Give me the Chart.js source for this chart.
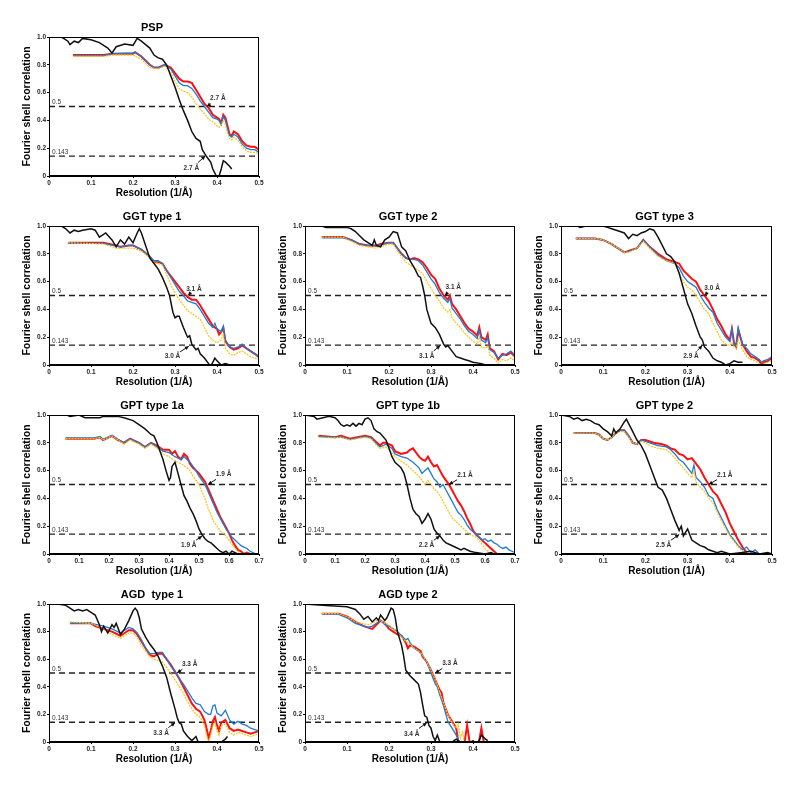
<!DOCTYPE html>
<html>
<head>
<meta charset="utf-8">
<script src="https://cdn.jsdelivr.net/npm/chart.js@4.4.1/dist/chart.umd.min.js"></script>
<style>
  body { margin: 0; background: #fff; }
  #wrap { position: relative; width: 800px; height: 791px; overflow: hidden; }
  #wrap canvas { position: absolute; }
</style>
</head>
<body>
<div id="wrap"></div>
<script>
// FSC curves, [resolution (1/Å), correlation]
const pspBlack = [[0,1],[0.03,1],[0.045,0.97],[0.05,0.945],[0.06,0.97],[0.07,0.96],[0.08,0.99],[0.1,0.98],[0.12,0.96],[0.14,0.92],[0.15,0.885],[0.16,0.93],[0.18,0.95],[0.2,0.94],[0.21,0.99],[0.22,0.97],[0.24,0.92],[0.25,0.87],[0.26,0.85],[0.27,0.84],[0.28,0.8],[0.29,0.72],[0.3,0.64],[0.31,0.55],[0.32,0.47],[0.33,0.4],[0.34,0.32],[0.35,0.27],[0.36,0.25],[0.365,0.19],[0.375,0.14],[0.385,0.1],[0.39,0.05],[0.4,-0.01],[0.405,0],[0.41,0.05],[0.415,0.11],[0.42,0.1],[0.43,0.07],[0.435,0.05]];
const pspRed = [[0.057,0.87],[0.13,0.87],[0.15,0.88],[0.2,0.88],[0.205,0.89],[0.22,0.86],[0.24,0.8],[0.25,0.78],[0.26,0.78],[0.275,0.8],[0.29,0.78],[0.3,0.74],[0.31,0.7],[0.32,0.68],[0.33,0.68],[0.34,0.67],[0.35,0.62],[0.36,0.57],[0.37,0.52],[0.38,0.49],[0.39,0.44],[0.4,0.42],[0.405,0.41],[0.41,0.38],[0.415,0.44],[0.42,0.42],[0.425,0.36],[0.43,0.3],[0.435,0.29],[0.44,0.32],[0.45,0.3],[0.46,0.25],[0.47,0.22],[0.48,0.21],[0.49,0.21],[0.5,0.19]];
const pspBlue = [[0.057,0.865],[0.13,0.865],[0.15,0.88],[0.2,0.885],[0.205,0.89],[0.22,0.86],[0.24,0.8],[0.25,0.78],[0.26,0.78],[0.275,0.8],[0.29,0.77],[0.3,0.72],[0.31,0.67],[0.32,0.65],[0.33,0.65],[0.34,0.63],[0.35,0.59],[0.36,0.54],[0.37,0.5],[0.38,0.46],[0.39,0.42],[0.4,0.41],[0.405,0.4],[0.41,0.37],[0.415,0.43],[0.42,0.4],[0.425,0.34],[0.43,0.29],[0.435,0.28],[0.44,0.3],[0.45,0.28],[0.46,0.23],[0.47,0.2],[0.48,0.19],[0.49,0.19],[0.5,0.17]];
const pspYellow = [[0.057,0.86],[0.13,0.86],[0.15,0.87],[0.2,0.87],[0.22,0.84],[0.24,0.78],[0.26,0.77],[0.275,0.79],[0.29,0.75],[0.3,0.68],[0.31,0.63],[0.32,0.61],[0.33,0.6],[0.34,0.57],[0.35,0.52],[0.36,0.48],[0.37,0.45],[0.38,0.41],[0.39,0.39],[0.4,0.36],[0.405,0.35],[0.41,0.37],[0.415,0.4],[0.42,0.37],[0.425,0.31],[0.43,0.27],[0.435,0.26],[0.44,0.28],[0.45,0.26],[0.46,0.21],[0.47,0.18],[0.48,0.17],[0.49,0.17],[0.5,0.16]];
const pspNotes = [['2.7 Å',0.402,0.56,0.376,0.5],['2.7 Å',0.339,0.055,0.372,0.143]];

const ggt1Black = [[0,1],[0.03,1],[0.04,0.98],[0.05,0.95],[0.06,0.97],[0.07,0.96],[0.08,0.97],[0.1,0.98],[0.11,0.97],[0.12,0.92],[0.135,0.95],[0.15,0.9],[0.16,0.85],[0.17,0.9],[0.18,0.87],[0.19,0.92],[0.2,0.88],[0.21,0.95],[0.215,0.98],[0.22,0.95],[0.23,0.86],[0.24,0.77],[0.25,0.73],[0.26,0.69],[0.27,0.63],[0.28,0.56],[0.287,0.5],[0.295,0.38],[0.3,0.34],[0.305,0.35],[0.31,0.35],[0.32,0.27],[0.33,0.2],[0.335,0.21],[0.34,0.15],[0.35,0.11],[0.355,0.12],[0.36,0.08],[0.37,0.05],[0.38,0.01],[0.385,-0.01],[0.395,0.05],[0.4,0.03],[0.41,0],[0.42,0.01],[0.43,0]];
const ggt1Red = [[0.045,0.88],[0.13,0.88],[0.16,0.86],[0.17,0.85],[0.19,0.86],[0.2,0.86],[0.22,0.83],[0.24,0.78],[0.25,0.74],[0.26,0.74],[0.27,0.73],[0.28,0.68],[0.29,0.64],[0.3,0.6],[0.31,0.56],[0.32,0.52],[0.33,0.49],[0.34,0.47],[0.35,0.47],[0.36,0.43],[0.37,0.38],[0.38,0.33],[0.39,0.28],[0.4,0.26],[0.405,0.22],[0.41,0.24],[0.415,0.27],[0.42,0.17],[0.43,0.13],[0.44,0.11],[0.45,0.12],[0.46,0.14],[0.47,0.12],[0.48,0.1],[0.49,0.08],[0.5,0.06]];
const ggt1Blue = [[0.045,0.875],[0.13,0.875],[0.16,0.855],[0.17,0.85],[0.19,0.86],[0.2,0.86],[0.22,0.83],[0.24,0.78],[0.25,0.75],[0.26,0.75],[0.27,0.73],[0.28,0.68],[0.29,0.63],[0.3,0.58],[0.31,0.53],[0.32,0.5],[0.33,0.46],[0.34,0.45],[0.35,0.44],[0.36,0.4],[0.37,0.35],[0.38,0.3],[0.39,0.27],[0.395,0.3],[0.4,0.26],[0.41,0.24],[0.415,0.28],[0.42,0.18],[0.43,0.13],[0.44,0.12],[0.45,0.13],[0.46,0.15],[0.47,0.12],[0.48,0.1],[0.49,0.08],[0.5,0.05]];
const ggt1Yellow = [[0.045,0.88],[0.13,0.87],[0.16,0.84],[0.2,0.84],[0.22,0.82],[0.24,0.77],[0.25,0.74],[0.27,0.72],[0.28,0.65],[0.29,0.58],[0.3,0.52],[0.31,0.47],[0.32,0.43],[0.33,0.39],[0.34,0.37],[0.35,0.35],[0.36,0.33],[0.37,0.27],[0.38,0.21],[0.39,0.18],[0.4,0.16],[0.41,0.18],[0.415,0.22],[0.42,0.12],[0.43,0.08],[0.44,0.07],[0.45,0.09],[0.46,0.1],[0.47,0.08],[0.48,0.06],[0.49,0.05],[0.5,0.04]];
const ggt1Notes = [['3.1 Å',0.345,0.545,0.331,0.5],['3.0 Å',0.294,0.06,0.333,0.135]];

const ggt2Black = [[0,1],[0.04,1],[0.05,0.99],[0.1,0.99],[0.11,0.98],[0.12,0.96],[0.13,0.93],[0.14,0.9],[0.15,0.88],[0.16,0.86],[0.165,0.9],[0.17,0.86],[0.18,0.85],[0.19,0.9],[0.2,0.92],[0.21,0.96],[0.22,0.95],[0.225,0.9],[0.23,0.85],[0.24,0.82],[0.25,0.75],[0.26,0.7],[0.27,0.64],[0.275,0.63],[0.28,0.57],[0.285,0.5],[0.29,0.4],[0.3,0.3],[0.31,0.27],[0.32,0.22],[0.33,0.15],[0.335,0.13],[0.34,0.14],[0.35,0.1],[0.36,0.06],[0.37,0.05],[0.38,0.04],[0.39,0.03],[0.4,0.02],[0.42,0.01],[0.43,0]];
const ggt2Red = [[0.04,0.92],[0.09,0.92],[0.11,0.9],[0.13,0.87],[0.15,0.86],[0.17,0.86],[0.18,0.87],[0.2,0.88],[0.21,0.88],[0.22,0.84],[0.23,0.8],[0.24,0.77],[0.25,0.76],[0.26,0.77],[0.27,0.76],[0.28,0.74],[0.29,0.7],[0.3,0.65],[0.31,0.62],[0.32,0.55],[0.33,0.5],[0.34,0.47],[0.345,0.5],[0.35,0.44],[0.36,0.4],[0.37,0.35],[0.38,0.3],[0.39,0.26],[0.4,0.24],[0.41,0.21],[0.415,0.27],[0.42,0.2],[0.43,0.18],[0.435,0.22],[0.44,0.12],[0.45,0.1],[0.46,0.04],[0.47,0.08],[0.48,0.07],[0.49,0.09],[0.5,0.06]];
const ggt2Blue = [[0.04,0.915],[0.09,0.915],[0.11,0.9],[0.13,0.87],[0.15,0.86],[0.17,0.855],[0.18,0.865],[0.2,0.88],[0.21,0.88],[0.22,0.84],[0.23,0.8],[0.24,0.77],[0.25,0.76],[0.26,0.76],[0.27,0.75],[0.28,0.72],[0.29,0.67],[0.3,0.62],[0.31,0.58],[0.32,0.52],[0.33,0.48],[0.34,0.45],[0.345,0.48],[0.35,0.41],[0.36,0.37],[0.37,0.33],[0.38,0.28],[0.39,0.24],[0.4,0.22],[0.41,0.19],[0.415,0.25],[0.42,0.18],[0.43,0.16],[0.435,0.2],[0.44,0.11],[0.45,0.09],[0.46,0.05],[0.47,0.07],[0.48,0.08],[0.49,0.1],[0.5,0.07]];
const ggt2Yellow = [[0.04,0.92],[0.09,0.92],[0.11,0.89],[0.13,0.86],[0.15,0.85],[0.17,0.84],[0.2,0.87],[0.21,0.87],[0.22,0.82],[0.24,0.74],[0.26,0.7],[0.28,0.66],[0.29,0.6],[0.3,0.55],[0.31,0.5],[0.32,0.46],[0.33,0.41],[0.34,0.38],[0.345,0.4],[0.35,0.34],[0.36,0.3],[0.37,0.27],[0.38,0.23],[0.39,0.2],[0.4,0.17],[0.41,0.15],[0.415,0.2],[0.42,0.13],[0.43,0.12],[0.435,0.14],[0.44,0.07],[0.45,0.05],[0.46,0.01],[0.47,0.04],[0.48,0.03],[0.49,0.05],[0.5,0.03]];
const ggt2Notes = [['3.1 Å',0.353,0.562,0.333,0.5],['3.1 Å',0.29,0.06,0.322,0.14]];

const ggt3Black = [[0,1],[0.04,1],[0.045,0.99],[0.06,1],[0.1,1],[0.11,0.99],[0.12,0.98],[0.14,0.96],[0.15,0.95],[0.16,0.91],[0.17,0.94],[0.18,0.93],[0.19,0.95],[0.2,0.96],[0.21,0.98],[0.22,0.97],[0.23,0.92],[0.24,0.86],[0.25,0.8],[0.26,0.78],[0.27,0.74],[0.28,0.66],[0.29,0.55],[0.3,0.44],[0.31,0.37],[0.32,0.28],[0.33,0.2],[0.335,0.18],[0.34,0.13],[0.35,0.1],[0.36,0.05],[0.37,0.03],[0.38,0.02],[0.39,0],[0.4,0.01],[0.41,0.03],[0.42,0.02],[0.43,0.02]];
const ggt3Red = [[0.035,0.91],[0.08,0.91],[0.1,0.9],[0.12,0.87],[0.14,0.83],[0.15,0.81],[0.16,0.82],[0.18,0.84],[0.195,0.9],[0.21,0.85],[0.23,0.8],[0.25,0.76],[0.26,0.75],[0.27,0.74],[0.28,0.73],[0.29,0.68],[0.3,0.65],[0.31,0.62],[0.32,0.6],[0.33,0.54],[0.34,0.5],[0.35,0.46],[0.36,0.4],[0.37,0.33],[0.38,0.28],[0.39,0.22],[0.4,0.18],[0.405,0.26],[0.41,0.16],[0.415,0.13],[0.42,0.25],[0.43,0.15],[0.44,0.1],[0.45,0.06],[0.46,0.05],[0.47,0.03],[0.475,0],[0.48,0.02],[0.49,0.03],[0.5,0.05]];
const ggt3Blue = [[0.035,0.91],[0.08,0.91],[0.1,0.9],[0.12,0.87],[0.14,0.83],[0.15,0.81],[0.16,0.815],[0.18,0.84],[0.195,0.9],[0.21,0.85],[0.23,0.79],[0.25,0.75],[0.26,0.74],[0.27,0.73],[0.28,0.7],[0.29,0.64],[0.3,0.6],[0.31,0.58],[0.32,0.56],[0.33,0.5],[0.34,0.45],[0.35,0.41],[0.36,0.38],[0.37,0.3],[0.38,0.25],[0.39,0.2],[0.4,0.17],[0.405,0.26],[0.41,0.15],[0.415,0.14],[0.42,0.27],[0.43,0.15],[0.44,0.12],[0.45,0.08],[0.46,0.06],[0.47,0.04],[0.475,0.02],[0.48,0.03],[0.49,0.04],[0.5,0.06]];
const ggt3Yellow = [[0.035,0.91],[0.08,0.91],[0.1,0.9],[0.12,0.87],[0.14,0.83],[0.15,0.81],[0.16,0.81],[0.18,0.84],[0.195,0.89],[0.21,0.84],[0.23,0.78],[0.25,0.75],[0.27,0.73],[0.28,0.66],[0.29,0.6],[0.3,0.56],[0.31,0.54],[0.32,0.5],[0.33,0.45],[0.34,0.4],[0.35,0.37],[0.36,0.3],[0.37,0.24],[0.38,0.18],[0.39,0.15],[0.4,0.14],[0.405,0.16],[0.41,0.13],[0.415,0.12],[0.42,0.18],[0.43,0.11],[0.44,0.06],[0.45,0.04],[0.46,0.03],[0.47,0.01],[0.475,0],[0.48,0.01],[0.49,0.02],[0.5,0.03]];
const ggt3Notes = [['3.0 Å',0.358,0.555,0.34,0.5],['2.9 Å',0.308,0.06,0.335,0.14]];

const gpt1aBlack = [[0,1],[0.06,1],[0.07,0.99],[0.1,1],[0.12,0.98],[0.17,0.98],[0.18,0.99],[0.23,0.99],[0.25,0.98],[0.28,0.96],[0.3,0.93],[0.32,0.9],[0.34,0.86],[0.35,0.85],[0.36,0.8],[0.37,0.74],[0.38,0.68],[0.39,0.6],[0.4,0.53],[0.405,0.55],[0.41,0.63],[0.42,0.66],[0.43,0.58],[0.44,0.5],[0.45,0.42],[0.46,0.38],[0.47,0.33],[0.48,0.29],[0.49,0.24],[0.5,0.18],[0.51,0.14],[0.52,0.11],[0.53,0.09],[0.54,0.08],[0.55,0.06],[0.56,0.04],[0.57,0.02],[0.58,0.01],[0.59,0.02],[0.6,0],[0.61,0.02],[0.62,0.01],[0.63,0]];
const gpt1aRed = [[0.055,0.83],[0.15,0.83],[0.17,0.84],[0.18,0.82],[0.21,0.85],[0.23,0.82],[0.25,0.8],[0.27,0.83],[0.3,0.8],[0.32,0.77],[0.34,0.8],[0.36,0.78],[0.38,0.75],[0.4,0.75],[0.41,0.72],[0.42,0.74],[0.43,0.7],[0.44,0.68],[0.45,0.72],[0.46,0.7],[0.47,0.65],[0.48,0.62],[0.49,0.6],[0.5,0.58],[0.51,0.55],[0.52,0.52],[0.53,0.47],[0.54,0.42],[0.55,0.37],[0.56,0.32],[0.57,0.27],[0.58,0.23],[0.59,0.19],[0.6,0.15],[0.61,0.1],[0.62,0.06],[0.63,0.03],[0.64,0.02],[0.65,0],[0.66,0.01],[0.67,0]];
const gpt1aBlue = [[0.055,0.835],[0.15,0.835],[0.17,0.845],[0.18,0.825],[0.21,0.855],[0.23,0.825],[0.25,0.8],[0.27,0.83],[0.3,0.8],[0.32,0.77],[0.34,0.8],[0.36,0.77],[0.38,0.74],[0.4,0.73],[0.42,0.7],[0.44,0.68],[0.45,0.7],[0.47,0.66],[0.49,0.6],[0.5,0.56],[0.51,0.53],[0.52,0.5],[0.53,0.45],[0.54,0.4],[0.55,0.35],[0.56,0.3],[0.57,0.26],[0.58,0.22],[0.59,0.18],[0.6,0.15],[0.61,0.12],[0.62,0.1],[0.63,0.08],[0.64,0.06],[0.65,0.05],[0.66,0.04],[0.67,0.02],[0.68,0.01],[0.69,0]];
const gpt1aYellow = [[0.055,0.83],[0.15,0.83],[0.17,0.84],[0.18,0.82],[0.21,0.85],[0.23,0.82],[0.25,0.79],[0.27,0.82],[0.3,0.79],[0.32,0.76],[0.34,0.79],[0.36,0.76],[0.38,0.72],[0.4,0.7],[0.42,0.67],[0.44,0.65],[0.46,0.62],[0.47,0.6],[0.48,0.56],[0.49,0.53],[0.5,0.5],[0.51,0.45],[0.52,0.4],[0.53,0.33],[0.54,0.28],[0.55,0.23],[0.56,0.2],[0.57,0.17],[0.58,0.15],[0.59,0.13],[0.6,0.1],[0.61,0.07],[0.62,0.04],[0.63,0.02],[0.64,0]];
const gpt1aNotes = [['1.9 Å',0.582,0.572,0.53,0.5],['1.9 Å',0.466,0.062,0.51,0.13]];

const gpt1bBlack = [[0,1],[0.03,0.99],[0.04,0.97],[0.06,0.98],[0.08,0.99],[0.1,0.98],[0.11,0.96],[0.12,0.93],[0.13,0.92],[0.14,0.93],[0.15,0.92],[0.16,0.94],[0.17,0.92],[0.18,0.94],[0.19,0.93],[0.2,0.97],[0.21,0.98],[0.22,0.96],[0.23,0.9],[0.24,0.88],[0.25,0.87],[0.27,0.82],[0.28,0.76],[0.29,0.7],[0.3,0.66],[0.31,0.64],[0.32,0.62],[0.33,0.58],[0.34,0.5],[0.35,0.4],[0.36,0.32],[0.37,0.29],[0.38,0.27],[0.39,0.22],[0.4,0.25],[0.41,0.29],[0.42,0.25],[0.43,0.18],[0.44,0.15],[0.45,0.13],[0.46,0.1],[0.47,0.08],[0.48,0.07],[0.5,0.05],[0.52,0.03],[0.53,0.04],[0.55,0.02],[0.57,0.01],[0.6,0],[0.62,0.01],[0.63,0]];
const gpt1bRed = [[0.045,0.85],[0.1,0.84],[0.12,0.85],[0.15,0.83],[0.2,0.85],[0.22,0.84],[0.24,0.8],[0.25,0.78],[0.26,0.8],[0.27,0.8],[0.29,0.78],[0.3,0.74],[0.32,0.72],[0.34,0.73],[0.35,0.75],[0.36,0.76],[0.37,0.73],[0.38,0.7],[0.39,0.68],[0.4,0.67],[0.41,0.7],[0.42,0.66],[0.43,0.63],[0.44,0.64],[0.45,0.6],[0.46,0.56],[0.47,0.53],[0.48,0.5],[0.49,0.46],[0.5,0.42],[0.51,0.38],[0.52,0.35],[0.53,0.31],[0.54,0.26],[0.55,0.22],[0.56,0.17],[0.57,0.14],[0.58,0.12],[0.59,0.1],[0.6,0.08],[0.61,0.06],[0.62,0.04],[0.63,0.02],[0.64,0]];
const gpt1bBlue = [[0.045,0.845],[0.1,0.84],[0.12,0.84],[0.15,0.825],[0.2,0.845],[0.22,0.835],[0.24,0.79],[0.25,0.77],[0.27,0.79],[0.29,0.76],[0.3,0.72],[0.32,0.7],[0.34,0.69],[0.36,0.66],[0.38,0.62],[0.39,0.58],[0.4,0.6],[0.41,0.62],[0.42,0.58],[0.43,0.54],[0.44,0.52],[0.45,0.48],[0.46,0.5],[0.47,0.46],[0.48,0.42],[0.49,0.38],[0.5,0.34],[0.51,0.3],[0.52,0.28],[0.53,0.25],[0.54,0.21],[0.55,0.18],[0.56,0.16],[0.57,0.14],[0.58,0.12],[0.59,0.1],[0.6,0.11],[0.61,0.09],[0.62,0.1],[0.63,0.08],[0.64,0.07],[0.65,0.05],[0.66,0.04],[0.67,0.05],[0.68,0.03],[0.69,0.02],[0.7,0.01]];
const gpt1bYellow = [[0.045,0.84],[0.1,0.835],[0.12,0.84],[0.15,0.82],[0.2,0.84],[0.22,0.83],[0.24,0.78],[0.25,0.76],[0.27,0.77],[0.29,0.73],[0.3,0.7],[0.32,0.67],[0.34,0.64],[0.36,0.6],[0.38,0.56],[0.4,0.5],[0.41,0.53],[0.42,0.5],[0.43,0.47],[0.44,0.45],[0.45,0.42],[0.46,0.38],[0.47,0.34],[0.48,0.3],[0.49,0.26],[0.5,0.24],[0.51,0.22],[0.52,0.2],[0.53,0.18],[0.54,0.16],[0.55,0.14],[0.57,0.12],[0.58,0.1],[0.59,0.07],[0.6,0.04],[0.61,0.02],[0.62,0]];
const gpt1bNotes = [['2.1 Å',0.533,0.567,0.48,0.5],['2.2 Å',0.405,0.062,0.45,0.13]];

const gpt2Black = [[0,1],[0.02,0.99],[0.03,0.97],[0.04,0.98],[0.05,0.96],[0.06,0.97],[0.07,0.96],[0.08,0.94],[0.09,0.93],[0.1,0.9],[0.11,0.88],[0.12,0.85],[0.125,0.9],[0.13,0.87],[0.14,0.9],[0.15,0.95],[0.155,0.97],[0.16,0.94],[0.17,0.88],[0.18,0.82],[0.19,0.78],[0.2,0.72],[0.21,0.64],[0.22,0.56],[0.23,0.48],[0.24,0.46],[0.25,0.4],[0.26,0.32],[0.27,0.24],[0.28,0.17],[0.285,0.2],[0.29,0.13],[0.3,0.18],[0.305,0.14],[0.31,0.1],[0.32,0.08],[0.33,0.06],[0.34,0.05],[0.35,0.03],[0.37,0.01],[0.38,0.02],[0.4,0],[0.43,0.01],[0.45,0.02],[0.47,0],[0.49,0.01],[0.5,0]];
const gpt2Red = [[0.03,0.87],[0.08,0.87],[0.09,0.86],[0.1,0.83],[0.11,0.82],[0.12,0.84],[0.13,0.87],[0.14,0.89],[0.15,0.89],[0.16,0.85],[0.17,0.8],[0.18,0.79],[0.19,0.82],[0.2,0.82],[0.22,0.8],[0.24,0.79],[0.25,0.78],[0.26,0.76],[0.27,0.75],[0.28,0.72],[0.29,0.71],[0.3,0.68],[0.31,0.69],[0.32,0.65],[0.33,0.61],[0.34,0.55],[0.35,0.5],[0.36,0.45],[0.37,0.42],[0.38,0.36],[0.39,0.3],[0.4,0.22],[0.41,0.16],[0.42,0.1],[0.43,0.05],[0.44,0.01]];
const gpt2Blue = [[0.03,0.87],[0.08,0.87],[0.09,0.86],[0.1,0.83],[0.11,0.82],[0.12,0.84],[0.13,0.87],[0.14,0.89],[0.15,0.89],[0.16,0.85],[0.17,0.8],[0.18,0.79],[0.19,0.82],[0.2,0.81],[0.21,0.8],[0.23,0.78],[0.25,0.77],[0.26,0.75],[0.27,0.72],[0.28,0.68],[0.29,0.66],[0.3,0.62],[0.31,0.58],[0.315,0.64],[0.32,0.55],[0.33,0.52],[0.34,0.48],[0.35,0.42],[0.36,0.4],[0.37,0.32],[0.38,0.26],[0.39,0.2],[0.4,0.14],[0.41,0.1],[0.42,0.06],[0.43,0.03],[0.44,0.05],[0.45,0.01],[0.46,0.03],[0.47,0]];
const gpt2Yellow = [[0.03,0.87],[0.08,0.87],[0.09,0.86],[0.1,0.83],[0.11,0.82],[0.12,0.84],[0.13,0.87],[0.14,0.88],[0.15,0.88],[0.16,0.84],[0.17,0.8],[0.18,0.79],[0.19,0.81],[0.2,0.8],[0.21,0.78],[0.23,0.76],[0.25,0.75],[0.26,0.72],[0.27,0.69],[0.28,0.65],[0.29,0.62],[0.3,0.58],[0.31,0.55],[0.315,0.6],[0.32,0.52],[0.33,0.48],[0.34,0.45],[0.35,0.4],[0.36,0.37],[0.37,0.3],[0.38,0.24],[0.39,0.18],[0.4,0.13],[0.41,0.09],[0.42,0.05],[0.43,0.02],[0.44,0]];
const gpt2Notes = [['2.1 Å',0.388,0.567,0.35,0.5],['2.5 Å',0.243,0.062,0.28,0.14]];

const agd1Black = [[0,1],[0.02,1],[0.04,0.99],[0.05,0.97],[0.06,0.95],[0.07,0.96],[0.08,0.95],[0.09,0.96],[0.1,0.94],[0.11,0.92],[0.12,0.85],[0.125,0.8],[0.13,0.84],[0.14,0.79],[0.15,0.85],[0.155,0.83],[0.16,0.86],[0.17,0.78],[0.18,0.82],[0.19,0.88],[0.2,0.95],[0.205,0.97],[0.21,0.95],[0.215,0.9],[0.22,0.82],[0.23,0.76],[0.24,0.71],[0.25,0.67],[0.26,0.62],[0.27,0.55],[0.28,0.47],[0.29,0.35],[0.3,0.24],[0.305,0.18],[0.31,0.14],[0.315,0.13],[0.32,0.08],[0.33,0.04],[0.34,0.01],[0.35,0.04],[0.355,0],[0.365,-0.04],[0.4,-0.04],[0.41,0],[0.42,0.02],[0.425,0.04]];
const agd1Red = [[0.05,0.86],[0.1,0.86],[0.11,0.84],[0.13,0.82],[0.15,0.8],[0.17,0.77],[0.18,0.79],[0.19,0.81],[0.2,0.81],[0.21,0.78],[0.22,0.73],[0.23,0.68],[0.24,0.63],[0.25,0.62],[0.26,0.64],[0.27,0.64],[0.28,0.6],[0.29,0.56],[0.3,0.51],[0.31,0.46],[0.32,0.4],[0.33,0.34],[0.34,0.28],[0.35,0.24],[0.36,0.22],[0.37,0.16],[0.375,0.1],[0.38,0.03],[0.385,0.08],[0.39,0.15],[0.395,0.18],[0.4,0.12],[0.405,0.08],[0.41,0.14],[0.42,0.16],[0.43,0.1],[0.44,0.08],[0.45,0.09],[0.46,0.08],[0.47,0.07],[0.48,0.06],[0.49,0.07],[0.5,0.08]];
const agd1Blue = [[0.05,0.86],[0.1,0.86],[0.13,0.84],[0.15,0.82],[0.17,0.79],[0.18,0.81],[0.19,0.83],[0.2,0.82],[0.21,0.79],[0.22,0.74],[0.23,0.68],[0.24,0.64],[0.25,0.64],[0.26,0.65],[0.27,0.65],[0.28,0.6],[0.29,0.55],[0.3,0.51],[0.31,0.46],[0.32,0.42],[0.33,0.37],[0.34,0.32],[0.35,0.28],[0.36,0.27],[0.37,0.22],[0.38,0.2],[0.385,0.2],[0.39,0.26],[0.395,0.27],[0.4,0.21],[0.41,0.19],[0.42,0.23],[0.43,0.16],[0.44,0.13],[0.45,0.15],[0.46,0.13],[0.47,0.12],[0.48,0.1],[0.49,0.09],[0.5,0.08]];
const agd1Yellow = [[0.05,0.87],[0.1,0.86],[0.13,0.82],[0.15,0.78],[0.17,0.75],[0.18,0.77],[0.19,0.79],[0.2,0.79],[0.21,0.76],[0.22,0.7],[0.23,0.66],[0.24,0.62],[0.25,0.6],[0.26,0.59],[0.27,0.58],[0.28,0.54],[0.29,0.5],[0.3,0.45],[0.31,0.4],[0.32,0.35],[0.33,0.29],[0.34,0.24],[0.35,0.2],[0.36,0.18],[0.37,0.12],[0.375,0.05],[0.38,0],[0.385,0.05],[0.39,0.12],[0.395,0.14],[0.4,0.08],[0.405,0.05],[0.41,0.12],[0.42,0.13],[0.43,0.07],[0.44,0.05],[0.45,0.07],[0.46,0.06],[0.47,0.05],[0.48,0.04],[0.49,0.05],[0.5,0.06]];
const agd1Notes = [['3.3 Å',0.335,0.565,0.305,0.5],['3.3 Å',0.267,0.065,0.3,0.14]];

const agd2Black = [[0,1],[0.05,0.99],[0.1,0.98],[0.12,0.96],[0.13,0.93],[0.14,0.89],[0.15,0.91],[0.16,0.87],[0.17,0.9],[0.175,0.88],[0.18,0.92],[0.19,0.88],[0.195,0.9],[0.205,0.97],[0.21,0.96],[0.215,0.9],[0.22,0.8],[0.23,0.7],[0.235,0.62],[0.24,0.52],[0.25,0.48],[0.26,0.45],[0.27,0.42],[0.275,0.36],[0.28,0.27],[0.285,0.19],[0.29,0.18],[0.295,0.12],[0.3,0.1],[0.305,0.04],[0.31,0.01],[0.315,0.05],[0.32,0.01],[0.33,-0.04],[0.345,-0.02],[0.35,0],[0.36,0.02],[0.37,0],[0.38,-0.03],[0.4,0.01],[0.41,-0.02],[0.42,0.05],[0.43,0.02],[0.435,0.01]];
const agd2Red = [[0.04,0.93],[0.08,0.93],[0.1,0.91],[0.12,0.87],[0.14,0.84],[0.16,0.82],[0.17,0.85],[0.18,0.88],[0.19,0.86],[0.2,0.82],[0.21,0.8],[0.22,0.78],[0.23,0.77],[0.24,0.72],[0.245,0.68],[0.25,0.7],[0.26,0.69],[0.27,0.67],[0.275,0.66],[0.28,0.62],[0.29,0.58],[0.3,0.52],[0.31,0.45],[0.32,0.38],[0.325,0.36],[0.33,0.28],[0.34,0.2],[0.35,0.15],[0.36,0.1],[0.365,0],[0.37,-0.05],[0.378,-0.04],[0.386,0.12],[0.394,-0.04],[0.412,-0.04],[0.42,0.1],[0.428,-0.04]];
const agd2Blue = [[0.04,0.93],[0.08,0.925],[0.1,0.9],[0.12,0.86],[0.15,0.83],[0.16,0.84],[0.17,0.86],[0.18,0.88],[0.19,0.85],[0.2,0.84],[0.21,0.82],[0.22,0.8],[0.23,0.77],[0.24,0.74],[0.245,0.75],[0.25,0.72],[0.26,0.68],[0.27,0.66],[0.28,0.63],[0.29,0.58],[0.3,0.5],[0.31,0.42],[0.315,0.4],[0.32,0.35],[0.33,0.26],[0.34,0.15],[0.35,0.1],[0.36,0.05],[0.365,0.02],[0.37,-0.05]];
const agd2Yellow = [[0.04,0.93],[0.08,0.93],[0.1,0.91],[0.12,0.87],[0.15,0.85],[0.16,0.86],[0.17,0.88],[0.18,0.88],[0.19,0.86],[0.2,0.85],[0.21,0.82],[0.22,0.79],[0.23,0.76],[0.24,0.73],[0.25,0.71],[0.26,0.68],[0.27,0.66],[0.28,0.63],[0.29,0.58],[0.3,0.52],[0.31,0.45],[0.32,0.37],[0.33,0.28],[0.34,0.2],[0.35,0.14],[0.36,0.1],[0.365,0.13],[0.37,0.03],[0.375,0.07],[0.38,-0.02]];
const agd2Notes = [['3.3 Å',0.345,0.568,0.31,0.5],['3.4 Å',0.254,0.06,0.29,0.14]];

const thresholds = [0.5, 0.143];
const yTicks = [0, 0.2, 0.4, 0.6, 0.8, 1.0];

const panels = [
    {title: 'PSP', xMax: 0.5, black: pspBlack, red: pspRed, blue: pspBlue, yellow: pspYellow, notes: pspNotes},
    {title: 'GGT type 1', xMax: 0.5, black: ggt1Black, red: ggt1Red, blue: ggt1Blue, yellow: ggt1Yellow, notes: ggt1Notes},
    {title: 'GGT type 2', xMax: 0.5, black: ggt2Black, red: ggt2Red, blue: ggt2Blue, yellow: ggt2Yellow, notes: ggt2Notes},
    {title: 'GGT type 3', xMax: 0.5, black: ggt3Black, red: ggt3Red, blue: ggt3Blue, yellow: ggt3Yellow, notes: ggt3Notes},
    {title: 'GPT type 1a', xMax: 0.7, black: gpt1aBlack, red: gpt1aRed, blue: gpt1aBlue, yellow: gpt1aYellow, notes: gpt1aNotes},
    {title: 'GPT type 1b', xMax: 0.7, black: gpt1bBlack, red: gpt1bRed, blue: gpt1bBlue, yellow: gpt1bYellow, notes: gpt1bNotes},
    {title: 'GPT type 2', xMax: 0.5, black: gpt2Black, red: gpt2Red, blue: gpt2Blue, yellow: gpt2Yellow, notes: gpt2Notes},
    {title: 'AGD  type 1', xMax: 0.5, black: agd1Black, red: agd1Red, blue: agd1Blue, yellow: agd1Yellow, notes: agd1Notes},
    {title: 'AGD type 2', xMax: 0.5, black: agd2Black, red: agd2Red, blue: agd2Blue, yellow: agd2Yellow, notes: agd2Notes}
];

// plot area of each panel on the page: left, top, right, bottom
const boxes = [
    [49, 37, 259, 176],
    [49, 226, 259, 365], [305, 226, 515, 365], [561, 226, 772, 365],
    [49, 415, 259, 554], [305, 415, 515, 554], [561, 415, 772, 554],
    [49, 604, 259, 742], [305, 604, 515, 742]
];

const FONT = '"Liberation Sans", Arial, sans-serif';
const AXIS_W = 28, AXIS_H = 23, PAD_TOP = 18, PAD_RIGHT = 8;

const toPoints = pairs => pairs.map(p => ({x: p[0], y: p[1]}));
const tickText = v => Math.abs(v) < 1e-9 ? '0' : v.toFixed(1);

// frame, panel title, threshold labels and resolution arrows
const extras = {
    id: 'extras',
    afterDraw(chart, args, opts) {
        const {ctx, chartArea: a, scales: {x, y}} = chart;
        ctx.save();
        ctx.strokeStyle = '#000';
        ctx.lineWidth = 1;
        ctx.strokeRect(a.left + 0.5, a.top + 0.5, a.right - a.left - 1, a.bottom - a.top - 1);

        ctx.fillStyle = '#000';
        ctx.font = 'bold 11px ' + FONT;
        ctx.textAlign = 'center';
        ctx.textBaseline = 'middle';
        ctx.fillText(opts.title, (a.left + a.right) / 2 - 2, a.top - 9);

        ctx.font = '6.5px ' + FONT;
        ctx.fillStyle = '#333';
        ctx.textAlign = 'left';
        ctx.textBaseline = 'bottom';
        thresholds.forEach(t => {
            ctx.fillText(String(t), a.left + 3, y.getPixelForValue(t) - 1);
        });

        ctx.font = 'bold 6.5px ' + FONT;
        ctx.textAlign = 'center';
        ctx.textBaseline = 'middle';
        opts.notes.forEach(([text, tx, ty, ax, ay]) => {
            const px = x.getPixelForValue(tx), py = y.getPixelForValue(ty);
            const qx = x.getPixelForValue(ax), qy = y.getPixelForValue(ay);
            ctx.fillStyle = '#333';
            ctx.fillText(text, px, py);
            const dx = qx - px, dy = qy - py;
            const d = Math.hypot(dx, dy), ux = dx / d, uy = dy / d;
            const s = Math.min(9, d - 4);
            ctx.strokeStyle = '#111';
            ctx.lineWidth = 1;
            ctx.beginPath();
            ctx.moveTo(px + ux * s, py + uy * s);
            ctx.lineTo(qx, qy);
            ctx.stroke();
            ctx.fillStyle = '#111';
            ctx.beginPath();
            ctx.moveTo(qx, qy);
            ctx.lineTo(qx - ux * 4 - uy * 2, qy - uy * 4 + ux * 2);
            ctx.lineTo(qx - ux * 4 + uy * 2, qy - uy * 4 - ux * 2);
            ctx.closePath();
            ctx.fill();
        });
        ctx.restore();
    }
};

const wrap = document.getElementById('wrap');

panels.forEach((panel, i) => {
    const [L, T, R, B] = boxes[i];
    const canvas = document.createElement('canvas');
    const w = (R - L) + AXIS_W + PAD_RIGHT;
    const h = PAD_TOP + (B - T) + AXIS_H;
    canvas.width = w;
    canvas.height = h;
    canvas.style.left = (L - AXIS_W) + 'px';
    canvas.style.top = (T - PAD_TOP) + 'px';
    canvas.style.width = w + 'px';
    canvas.style.height = h + 'px';
    wrap.appendChild(canvas);

    const datasets = [
        {data: toPoints(panel.black), borderColor: '#111', borderWidth: 1.5},
        {data: toPoints(panel.yellow), borderColor: '#ffc20e', borderWidth: 1.2, borderDash: [2, 1]},
        {data: toPoints(panel.blue), borderColor: '#1f7ad6', borderWidth: 1.3},
        {data: toPoints(panel.red), borderColor: '#ff1010', borderWidth: 2}
    ];
    thresholds.forEach(t => {
        datasets.push({
            data: [{x: 0, y: t}, {x: panel.xMax, y: t}],
            borderColor: '#222', borderWidth: 1.3, borderDash: [6, 4]
        });
    });

    new Chart(canvas, {
        type: 'line',
        data: {datasets},
        options: {
            responsive: false,
            animation: false,
            devicePixelRatio: 1,
            layout: {padding: {top: PAD_TOP, right: PAD_RIGHT, left: 0, bottom: 0}},
            elements: {point: {radius: 0}, line: {tension: 0, fill: false}},
            plugins: {
                legend: {display: false},
                tooltip: {enabled: false},
                extras: {title: panel.title, notes: panel.notes}
            },
            scales: {
                x: {
                    type: 'linear',
                    min: 0,
                    max: panel.xMax,
                    afterFit: s => { s.height = AXIS_H; },
                    grid: {drawOnChartArea: false, tickLength: 2, color: '#000'},
                    border: {color: '#000'},
                    ticks: {
                        stepSize: 0.1,
                        padding: 1,
                        maxRotation: 0,
                        color: '#222',
                        font: {family: FONT, size: 6.5, weight: 'bold'},
                        callback: tickText
                    },
                    title: {
                        display: true,
                        text: 'Resolution (1/Å)',
                        color: '#000',
                        padding: 0,
                        font: {family: FONT, size: 10, weight: 'bold'}
                    }
                },
                y: {
                    min: 0,
                    max: 1,
                    afterFit: s => { s.width = AXIS_W; },
                    afterBuildTicks: s => { s.ticks = yTicks.map(v => ({value: v})); },
                    grid: {drawOnChartArea: false, tickLength: 2, color: '#000'},
                    border: {color: '#000'},
                    ticks: {
                        padding: 1,
                        color: '#222',
                        font: {family: FONT, size: 6.5, weight: 'bold'},
                        callback: tickText
                    },
                    title: {
                        display: true,
                        text: 'Fourier shell correlation',
                        color: '#000',
                        padding: 0,
                        font: {family: FONT, size: 10.5, weight: 'bold'}
                    }
                }
            }
        },
        plugins: [extras]
    });
});
</script>
</body>
</html>
